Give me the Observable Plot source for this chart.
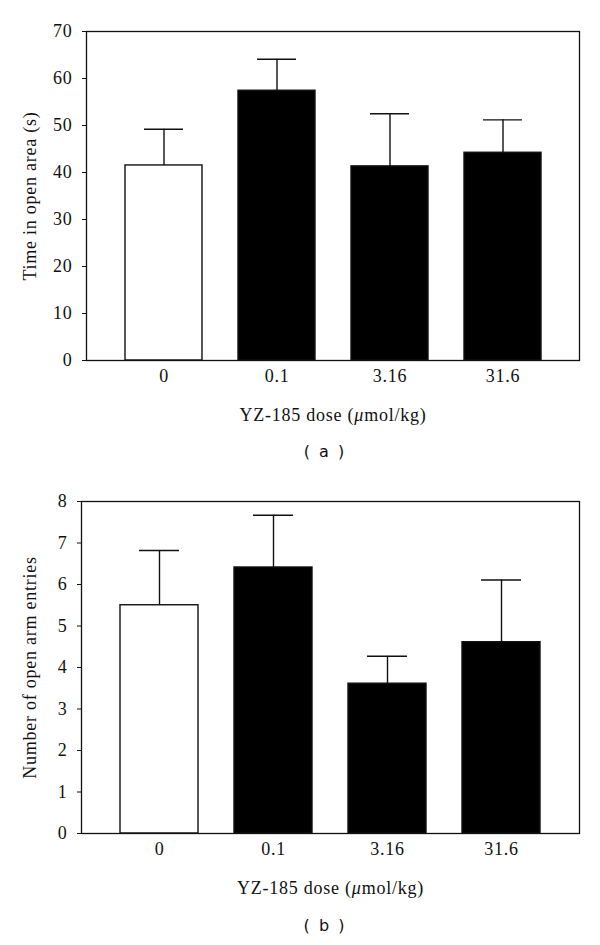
<!DOCTYPE html>
<html>
<head>
<meta charset="utf-8">
<script src="https://cdn.jsdelivr.net/npm/d3@7"></script>
<script src="https://cdn.jsdelivr.net/npm/@observablehq/plot@0.6"></script>
<style>
  html, body { margin: 0; padding: 0; background: white; }
  #root { position: relative; width: 600px; height: 945px; overflow: hidden; }
  .panel { position: absolute; left: 0; }
  .cap { position: absolute; left: 0; width: 650px; text-align: center; font-family: "DejaVu Sans", Verdana, sans-serif; font-size: 16px; letter-spacing: 2px; color: #111; white-space: pre; }
</style>
</head>
<body>
<div id="root">
  <div class="panel" id="pa" style="top:0px"></div>
  <div class="cap" style="top:442px">( a )</div>
  <div class="panel" id="pb" style="top:470px"></div>
  <div class="cap" style="top:916px">( b )</div>
</div>
<script>
const doses = ["0", "0.1", "3.16", "31.6"];
const timeMean = [41.5, 57.4, 41.3, 44.2];
const timeSE = [7.7, 6.7, 11.2, 7.0];
const entriesMean = [5.5, 6.41, 3.61, 4.61];
const entriesSE = [1.32, 1.26, 0.66, 1.50];
const timeTicks = [0, 10, 20, 30, 40, 50, 60, 70];
const entriesTicks = [0, 1, 2, 3, 4, 5, 6, 7, 8];
const xLabel = "YZ-185 dose (μmol/kg)";
const serif = "Liberation Serif, Times New Roman, serif";
const FS = "18";

function panel(mean, se, ticks, yLabel, opts) {
  const rows = doses.map((d, i) => ({dose: d, mean: mean[i], upper: mean[i] + se[i], control: i === 0}));
  const p = Plot.plot({
    width: 600,
    height: 430,
    marginTop: 31,
    marginLeft: opts.marginLeft,
    marginRight: 21,
    marginBottom: opts.marginBottom,
    x: {type: "band", domain: doses, paddingInner: 0.32, paddingOuter: 0.33},
    y: {domain: [ticks[0], ticks[ticks.length - 1]]},
    marks: [
      Plot.ruleX(rows, {x: "dose", y1: "mean", y2: "upper", stroke: "#111", strokeWidth: 1.4}),
      Plot.tickY(rows, {x: "dose", y: "upper", stroke: "#111", strokeWidth: 1.4, insetLeft: 19, insetRight: 19}),
      Plot.barY(rows, {x: "dose", y: "mean", fill: d => d.control ? "white" : "black", stroke: "#111", strokeWidth: 1.4}),
      Plot.frame({stroke: "#111", strokeWidth: 1.3}),
      Plot.axisY(ticks, {tickSize: 4, tickPadding: 10, stroke: "#111", fontSize: 18, fontFamily: serif, label: yLabel, labelAnchor: "center", labelArrow: "none", labelOffset: opts.labelOffsetY}),
      Plot.axisX({tickSize: 0, tickPadding: 9, fontSize: 18, fontFamily: serif, label: xLabel, labelAnchor: "center", labelArrow: "none", labelOffset: opts.labelOffsetX})
    ]
  });
  p.setAttribute("font-family", serif);
  p.setAttribute("font-size", FS);
  const ns = "http://www.w3.org/2000/svg";
  p.querySelectorAll("text").forEach(t => {
    t.setAttribute("font-family", serif);
    t.setAttribute("font-size", FS);
    t.setAttribute("letter-spacing", "0.75");
    t.setAttribute("fill", "#111");
    // italicise the μ in the x label
    if (t.textContent === xLabel) {
      const parts = xLabel.split("μ");
      while (t.firstChild) t.removeChild(t.firstChild);
      const a = document.createElementNS(ns, "tspan"); a.textContent = parts[0];
      const m = document.createElementNS(ns, "tspan"); m.textContent = "μ"; m.setAttribute("font-style", "italic");
      const b = document.createElementNS(ns, "tspan"); b.textContent = parts[1];
      t.append(a, m, b);
    }
  });
  return p;
}

document.getElementById("pa").append(panel(timeMean, timeSE, timeTicks, "Time in open area (s)", {marginLeft: 86, marginBottom: 70, labelOffsetY: 63, labelOffsetX: 60}));
document.getElementById("pb").append(panel(entriesMean, entriesSE, entriesTicks, "Number of open arm entries", {marginLeft: 81, marginBottom: 67, labelOffsetY: 58, labelOffsetX: 60}));
</script>
</body>
</html>
